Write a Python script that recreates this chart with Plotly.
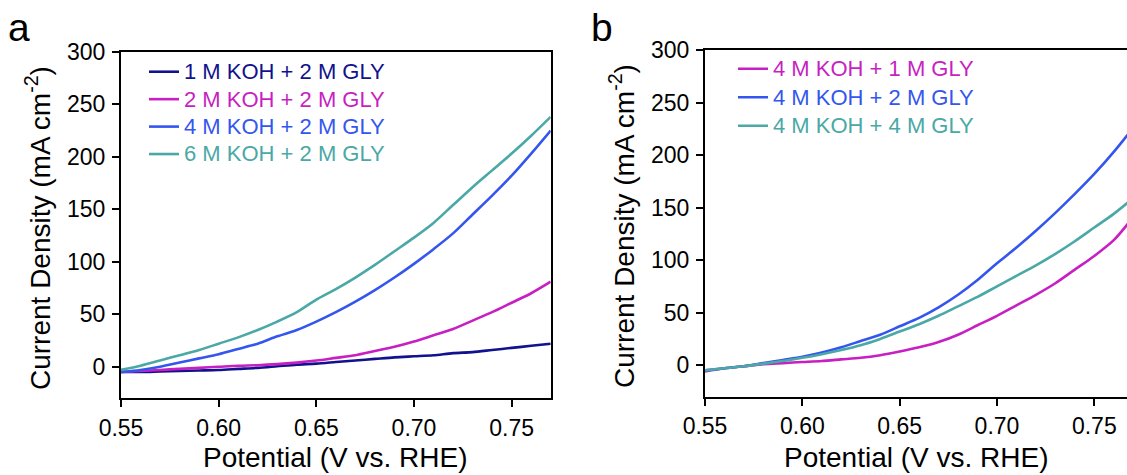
import plotly.graph_objects as go

W, H = 1127, 475

# Potential (V vs. RHE)
potential = [0.55, 0.56, 0.57, 0.58, 0.59, 0.60, 0.61, 0.62, 0.63, 0.64, 0.65, 0.66,
             0.67, 0.68, 0.69, 0.70, 0.71, 0.72, 0.73, 0.74, 0.75, 0.76, 0.77]

# Panel a: current density (mA cm-2), varying KOH with 2 M GLY
a_1koh = [-5, -5, -4.5, -4, -3.5, -3, -2, -1, 0.5, 2, 3, 4.5, 6, 7.5, 9, 10, 11, 13, 14, 16, 18, 20, 22]
a_2koh = [-5, -4, -3, -2, -1, 0, 1, 1.5, 2.5, 4, 6, 8.5, 11, 15, 19, 24, 30, 36, 44, 52, 61, 70, 81]
a_4koh = [-5, -3, 0, 4, 8, 12, 17, 22, 29, 35, 43, 52, 62, 73, 85, 98, 112, 127, 145, 163, 182, 203, 225]
a_6koh = [-3, 1, 6, 11, 16, 22, 28, 35, 43, 52, 64, 74, 85, 97, 110, 123, 137, 154, 171, 187, 203, 220, 238]

# Panel b: current density (mA cm-2), 4 M KOH with varying GLY
b_1gly = [-6, -3, -1, 1, 2, 3, 4, 5.5, 7, 9.5, 13, 17, 22, 29, 38, 47, 57, 67, 78, 91, 104, 119, 141]
b_2gly = [-5, -3, -1, 2, 5, 8, 12, 17, 23, 29, 37, 45, 55, 67, 81, 97, 112, 128, 145, 163, 182, 203, 226]
b_4gly = [-5, -3, -1, 1.5, 4, 7, 10.5, 14.5, 19, 25, 32, 39, 47, 56, 65, 75, 85, 95, 106, 118, 131, 144, 159]

labels_a = ["1 M KOH + 2 M GLY", "2 M KOH + 2 M GLY", "4 M KOH + 2 M GLY", "6 M KOH + 2 M GLY"]
labels_b = ["4 M KOH + 1 M GLY", "4 M KOH + 2 M GLY", "4 M KOH + 4 M GLY"]

x_ticks = [0.55, 0.60, 0.65, 0.70, 0.75]
y_ticks = [0, 50, 100, 150, 200, 250, 300]

NAVY, MAGENTA, BLUE, TEAL = "#12128e", "#c71fc2", "#3456ee", "#4aa8a6"
FONT = "Liberation Sans, Arial, sans-serif"


def legend_name(label, color):
    return f'<span style="color:{color};font-size:22px">{label}</span>'


fig = go.Figure()
for lab, vals, col in zip(labels_a, [a_1koh, a_2koh, a_4koh, a_6koh], [NAVY, MAGENTA, BLUE, TEAL]):
    fig.add_trace(go.Scatter(x=potential, y=vals, mode="lines",
                             line=dict(color=col, width=2.6, shape="spline", smoothing=0.8),
                             name=legend_name(lab, col),
                             xaxis="x", yaxis="y", legend="legend"))
for lab, vals, col in zip(labels_b, [b_1gly, b_2gly, b_4gly], [MAGENTA, BLUE, TEAL]):
    fig.add_trace(go.Scatter(x=potential, y=vals, mode="lines",
                             line=dict(color=col, width=2.6, shape="spline", smoothing=0.8),
                             name=legend_name(lab, col),
                             xaxis="x2", yaxis="y2", legend="legend2"))

axis_common = dict(showgrid=False, zeroline=False, showline=True, linecolor="black",
                   linewidth=2, ticks="outside", ticklen=7, tickwidth=2, tickcolor="black",
                   tickfont=dict(family=FONT, size=23, color="black"), automargin=False)

fig.update_layout(
    width=W, height=H,
    margin=dict(l=0, r=0, t=0, b=0),
    paper_bgcolor="white", plot_bgcolor="white",
    showlegend=True,
    xaxis=dict(domain=[121 / W, 550.7 / W], range=[0.55, 0.77], tickvals=x_ticks, tickformat=".2f",
               anchor="y", mirror=True, ticklabelstandoff=1, **axis_common),
    yaxis=dict(domain=[1 - 398.3 / H, 1 - 51.7 / H], range=[-30, 300], tickvals=y_ticks,
               anchor="x", mirror=True, ticklabelstandoff=2, **axis_common),
    xaxis2=dict(domain=[705 / W, 1.0], range=[0.55, 0.7668], tickvals=x_ticks, tickformat=".2f",
                anchor="y2", mirror=True, ticklabelstandoff=1, **axis_common),
    yaxis2=dict(domain=[1 - 396.7 / H, 1 - 50 / H], range=[-30, 300], tickvals=y_ticks,
                anchor="x2", mirror=False, ticklabelstandoff=2, **axis_common),
    legend=dict(x=144 / W, y=1 - 53 / H, xanchor="left", yanchor="top", bgcolor="rgba(0,0,0,0)",
                font=dict(family=FONT, size=18.8), tracegroupgap=0),
    legend2=dict(x=733 / W, y=1 - 49.5 / H, xanchor="left", yanchor="top", bgcolor="rgba(0,0,0,0)",
                 font=dict(family=FONT, size=19.6), tracegroupgap=0),
)

title_font = dict(family=FONT, size=28, color="black")
annotations = [
    dict(text="a", x=19 / W, y=1 - 27 / H, xanchor="center", yanchor="middle",
         font=dict(family=FONT, size=39, color="black")),
    dict(text="b", x=602 / W, y=1 - 27 / H, xanchor="center", yanchor="middle",
         font=dict(family=FONT, size=39, color="black")),
    dict(text="Potential (V vs. RHE)", x=335.5 / W, y=1 - 457.5 / H, xanchor="center", yanchor="middle",
         font=title_font),
    dict(text="Potential (V vs. RHE)", x=916 / W, y=1 - 457.5 / H, xanchor="center", yanchor="middle",
         font=title_font),
    dict(text="Current Density (mA cm<sup>-2</sup>)", x=38 / W, y=1 - 228 / H, textangle=-90,
         xanchor="center", yanchor="middle", font=title_font),
    dict(text="Current Density (mA cm<sup>-2</sup>)", x=622 / W, y=1 - 226 / H, textangle=-90,
         xanchor="center", yanchor="middle", font=title_font),
]
for a in annotations:
    a.update(xref="paper", yref="paper", showarrow=False)
fig.update_layout(annotations=annotations)

fig.write_html("out.html")
